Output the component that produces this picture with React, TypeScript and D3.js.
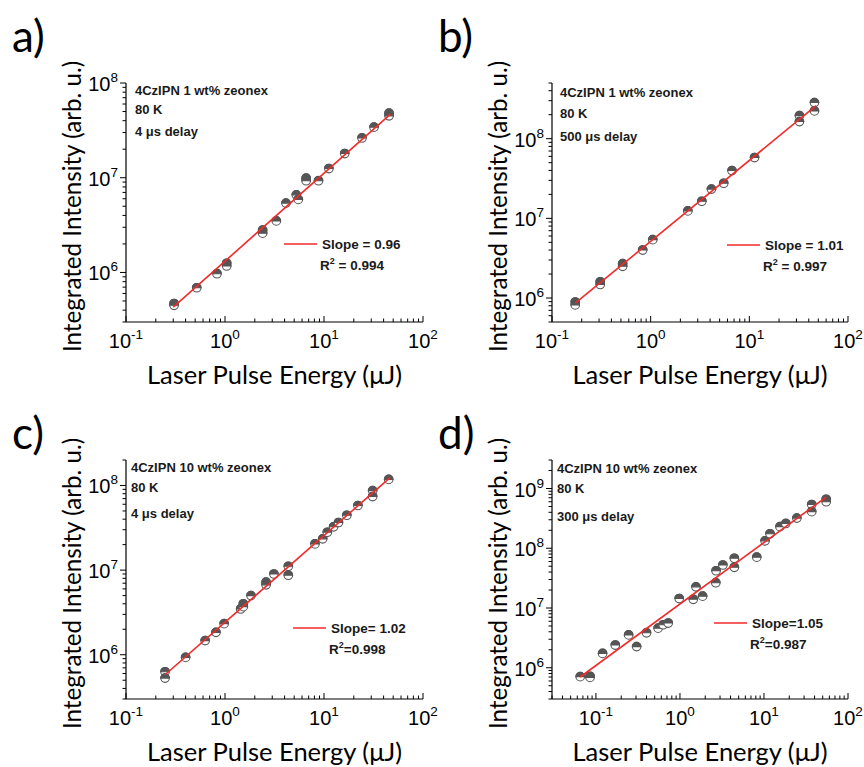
import React from 'react';
import * as d3 from 'd3';

// ---------- Data ----------
// Panel a: 4CzIPN 1 wt% zeonex, 80 K, 4 µs delay
const aX = [0.306, 0.306, 0.518, 0.83, 1.04, 1.04, 2.4, 2.4, 3.3, 4.13, 5.25, 5.5, 6.6, 6.6, 8.8, 11.2, 16.2, 24.2, 32, 45.4, 45.4];
const aY = [4.7e5, 4.5e5, 6.9e5, 9.7e5, 1.25e6, 1.17e6, 2.8e6, 2.6e6, 3.5e6, 5.4e6, 6.6e6, 5.9e6, 9.9e6, 9.3e6, 9.3e6, 1.25e7, 1.8e7, 2.63e7, 3.42e7, 4.8e7, 4.5e7];
const aFit = [[0.3, 4.3e5], [47, 4.7e7]];

// Panel b: 4CzIPN 1 wt% zeonex, 80 K, 500 µs delay
const bX = [0.172, 0.172, 0.308, 0.308, 0.52, 0.52, 0.83, 1.05, 2.38, 3.3, 4.13, 5.5, 6.67, 11.3, 32.2, 32.2, 45.7, 45.7];
const bY = [8.9e5, 8.2e5, 1.6e6, 1.48e6, 2.7e6, 2.5e6, 4.0e6, 5.4e6, 1.24e7, 1.64e7, 2.33e7, 2.76e7, 3.98e7, 5.8e7, 1.95e8, 1.64e8, 2.84e8, 2.23e8];
const bFit = [[0.172, 8.6e5], [47.5, 2.6e8]];

// Panel c: 4CzIPN 10 wt% zeonex, 80 K, 4 µs delay
const cX = [0.248, 0.248, 0.40, 0.63, 0.81, 0.98, 1.44, 1.53, 1.53, 1.83, 2.6, 2.6, 3.12, 4.36, 4.36, 8.1, 9.7, 10.8, 12.5, 14, 17, 22, 31, 31, 45];
const cY = [6.3e5, 5.3e5, 9.3e5, 1.47e6, 1.84e6, 2.33e6, 3.47e6, 4.0e6, 3.7e6, 5.0e6, 7.2e6, 6.7e6, 9.0e6, 1.11e7, 8.7e6, 2.04e7, 2.34e7, 2.8e7, 3.25e7, 3.65e7, 4.45e7, 5.8e7, 8.7e7, 7.4e7, 1.18e8];
const cFit = [[0.248, 5.8e5], [46.5, 1.24e8]];

// Panel d: 4CzIPN 10 wt% zeonex, 80 K, 300 µs delay
const dX = [0.065, 0.085, 0.085, 0.12, 0.17, 0.245, 0.305, 0.40, 0.55, 0.63, 0.725, 0.98, 1.44, 1.55, 1.86, 2.67, 2.69, 3.24, 4.44, 4.44, 8.2, 10.3, 11.8, 15.5, 18.2, 24.6, 37, 37, 55, 55];
const dY = [7.1e5, 7.2e5, 6.9e5, 1.74e6, 2.4e6, 3.55e6, 2.26e6, 3.85e6, 4.6e6, 5.25e6, 5.6e6, 1.44e7, 1.4e7, 2.26e7, 1.58e7, 2.65e7, 4.2e7, 5.25e7, 6.8e7, 4.8e7, 7.1e7, 1.33e8, 1.75e8, 2.3e8, 2.6e8, 3.2e8, 5.4e8, 4.1e8, 6.6e8, 6.0e8];
const dFit = [[0.065, 7.0e5], [55, 7.2e8]];

const labels = ['a)', 'b)', 'c)', 'd)'];
const sampleLine1 = ['4CzIPN 1 wt% zeonex', '4CzIPN 1 wt% zeonex', '4CzIPN 10 wt% zeonex', '4CzIPN 10 wt% zeonex'];
const sampleLine2 = ['80 K', '80 K', '80 K', '80 K'];
const sampleLine3 = ['4 \u03bcs delay', '500 \u03bcs delay', '4 \u03bcs delay', '300 \u03bcs delay'];
const slopeText = ['Slope = 0.96', 'Slope = 1.01', 'Slope= 1.02', 'Slope=1.05'];
const r2Prefix = ['R', 'R', 'R', 'R'];
const r2Text = [' = 0.994', ' = 0.997', '=0.998', '=0.987'];
const xDomains = [[0.1, 100], [0.1, 100], [0.1, 100], [0.03, 100]];
const yDomains = [[3e5, 1e8], [5e5, 5e8], [3e5, 2e8], [3e5, 3e9]];
const xTitle = 'Laser Pulse Energy (\u03bcJ)';
const yTitle = 'Integrated Intensity (arb. u.)';

const seriesX = [aX, bX, cX, dX];
const seriesY = [aY, bY, cY, dY];
const fits = [aFit, bFit, cFit, dFit];

// ---------- Layout ----------
const W = 864;
const H = 767;
const panels = [
  { left: 126, right: 423, top: 83, bottom: 322, labX: 12, labY: 52, txtX: 135, txtY: [95, 114, 136], legX: 284, legY: 244 },
  { left: 552, right: 848, top: 83, bottom: 322, labX: 438, labY: 52, txtX: 560, txtY: [97, 118, 141], legX: 727, legY: 245 },
  { left: 126, right: 423, top: 460, bottom: 699, labX: 12, labY: 449, txtX: 131, txtY: [472, 492, 518], legX: 293, legY: 628 },
  { left: 552, right: 848, top: 460, bottom: 699, labX: 438, labY: 449, txtX: 557, txtY: [473, 493, 521], legX: 714, legY: 623 },
];

const TICK_FONT = '"Liberation Sans", Arial, sans-serif';
const TITLE_FONT = 'Lato, "Open Sans", sans-serif';
const RED = '#f22a2a';
const DOT = '#555555';

function Marker({ cx, cy }: { cx: number; cy: number }) {
  const r = 4.3;
  const top = `M${cx - r},${cy} A${r},${r} 0 0 1 ${cx + r},${cy} Z`;
  return (
    <g>
      <circle cx={cx} cy={cy} r={r} fill="#ffffff" stroke={DOT} strokeWidth={1.1} />
      <path d={top} fill={DOT} stroke={DOT} strokeWidth={1.1} />
    </g>
  );
}

function Panel({ i }: { i: number }) {
  const p = panels[i];
  const x = d3.scaleLog().domain(xDomains[i]).range([p.left, p.right]);
  const y = d3.scaleLog().domain(yDomains[i]).range([p.bottom, p.top]);
  const isMajor = (v: number) => Math.abs(Math.log10(v) - Math.round(Math.log10(v))) < 1e-6;
  const xt = x.ticks();
  const yt = y.ticks();
  const line = d3.line<number[]>().x((d) => x(d[0])).y((d) => y(d[1]));
  const xs = seriesX[i];
  const ys = seriesY[i];
  const cxMid = (p.left + p.right) / 2;
  const cyMid = (p.top + p.bottom) / 2;
  return (
    <g>
      {/* panel label */}
      <text x={p.labX} y={p.labY} fontFamily={TITLE_FONT} fontSize={44} fill="#000">{labels[i]}</text>
      {/* axes */}
      <line x1={p.left} x2={p.left} y1={p.top} y2={p.bottom} stroke="#000" strokeWidth={1.2} />
      <line x1={p.left} x2={p.right} y1={p.bottom} y2={p.bottom} stroke="#000" strokeWidth={1.2} />
      {yt.map((t, k) => (
        <line key={'yt' + k} x1={p.left} x2={p.left - (isMajor(t) ? 6 : 3.5)} y1={y(t)} y2={y(t)} stroke="#000" strokeWidth={1} />
      ))}
      {xt.map((t, k) => (
        <line key={'xt' + k} x1={x(t)} x2={x(t)} y1={p.bottom} y2={p.bottom - (isMajor(t) ? 6 : 3.5)} stroke="#000" strokeWidth={1} />
      ))}
      {yt.filter(isMajor).map((t, k) => (
        <text key={'yl' + k} x={p.left - 8} y={y(t) + 8} textAnchor="end" fontFamily={TICK_FONT} fontSize={20} fill="#000">
          <tspan>10</tspan>
          <tspan dy={-9} fontSize={13.5}>{String(Math.round(Math.log10(t)))}</tspan>
        </text>
      ))}
      {xt.filter(isMajor).map((t, k) => (
        <text key={'xl' + k} x={x(t)} y={p.bottom + 26} textAnchor="middle" fontFamily={TICK_FONT} fontSize={20} fill="#000">
          <tspan>10</tspan>
          <tspan dy={-9} fontSize={13.5}>{String(Math.round(Math.log10(t)))}</tspan>
        </text>
      ))}
      {/* axis titles */}
      <text x={cxMid} y={p.bottom + 62} textAnchor="middle" fontFamily={TITLE_FONT} fontSize={25.5} fill="#000">{xTitle}</text>
      <text transform={`translate(${p.left - 45},${cyMid + 4}) rotate(-90)`} textAnchor="middle" fontFamily={TITLE_FONT} fontSize={24.2} fill="#000">{yTitle}</text>
      {/* sample annotation */}
      <g fontFamily={TICK_FONT} fontWeight="bold" fontSize={13} fill="#1a1a1a">
        <text x={p.txtX} y={p.txtY[0]}>{sampleLine1[i]}</text>
        <text x={p.txtX} y={p.txtY[1]}>{sampleLine2[i]}</text>
        <text x={p.txtX} y={p.txtY[2]}>{sampleLine3[i]}</text>
      </g>
      {/* data */}
      {xs.map((v, k) => (
        <Marker key={'m' + k} cx={x(v)} cy={y(ys[k])} />
      ))}
      <path d={line(fits[i]) || ''} fill="none" stroke={RED} strokeWidth={1.6} />
      {/* legend */}
      <line x1={p.legX} x2={p.legX + 33} y1={p.legY} y2={p.legY} stroke={RED} strokeWidth={1.6} />
      <g fontFamily={TICK_FONT} fontWeight="bold" fontSize={13.5} fill="#1a1a1a">
        <text x={p.legX + 38} y={p.legY + 5}>{slopeText[i]}</text>
        <text x={p.legX + 36} y={p.legY + 26}>
          <tspan>{r2Prefix[i]}</tspan>
          <tspan dy={-6} fontSize={9}>2</tspan>
          <tspan dy={6}>{r2Text[i]}</tspan>
        </text>
      </g>
    </g>
  );
}

export default function App() {
  return (
    <svg width={W} height={H} viewBox={`0 0 ${W} ${H}`} style={{ display: 'block', position: 'absolute', left: 0, top: 0, background: '#fff' }}>
      <rect x={0} y={0} width={W} height={H} fill="#fff" />
      {panels.map((_, i) => (
        <Panel key={i} i={i} />
      ))}
    </svg>
  );
}
